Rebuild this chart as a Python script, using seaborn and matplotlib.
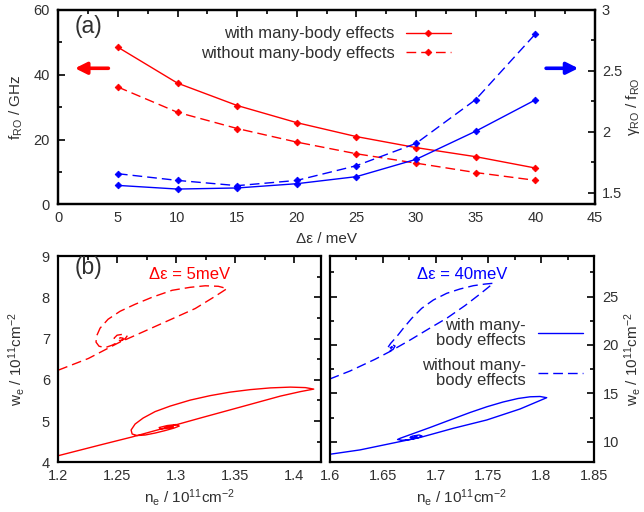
import numpy as np
import matplotlib
matplotlib.use("Agg")
import matplotlib.pyplot as plt
from matplotlib.ticker import MultipleLocator, FormatStrFormatter
import seaborn as sns

# ---------------- data ----------------
delta_eps = [5, 10, 15, 20, 25, 30, 35, 40]
f_ro_with = [48.5, 37.4, 30.5, 25.2, 20.9, 17.5, 14.7, 11.2]
f_ro_without = [36.2, 28.4, 23.4, 19.2, 15.6, 12.7, 9.8, 7.4]
ratio_with = [1.560, 1.530, 1.539, 1.574, 1.632, 1.774, 2.005, 2.262]
ratio_without = [1.656, 1.601, 1.558, 1.601, 1.722, 1.905, 2.265, 2.803]

# phase-space trajectories, delta eps = 5 meV
ne_5_with = [1.2000, 1.2354, 1.2623, 1.2906, 1.3203, 1.3543, 1.3882, 1.4052, 1.4165,
             1.4094, 1.3967, 1.3797, 1.3627, 1.3457, 1.3288, 1.3118, 1.2948, 1.2821,
             1.2719, 1.2651, 1.2617, 1.2626, 1.2668, 1.2736, 1.2821, 1.2906, 1.2982,
             1.3025, 1.2999, 1.2923, 1.2855, 1.2872, 1.2940, 1.2974, 1.2931, 1.2906]
we_5_with = [4.160, 4.419, 4.612, 4.835, 5.072, 5.338, 5.604, 5.713, 5.774,
             5.810, 5.822, 5.803, 5.761, 5.701, 5.616, 5.507, 5.362, 5.229,
             5.072, 4.927, 4.782, 4.685, 4.648, 4.661, 4.709, 4.769, 4.830,
             4.878, 4.915, 4.890, 4.842, 4.806, 4.830, 4.859, 4.859, 4.842]
ne_5_without = [1.2000, 1.2255, 1.2509, 1.2778, 1.3160, 1.3330, 1.3430, 1.3356, 1.3245,
                1.3118, 1.2965, 1.2795, 1.2651, 1.2524, 1.2422, 1.2354, 1.2324, 1.2320,
                1.2345, 1.2396, 1.2456, 1.2507, 1.2566, 1.2583, 1.2549, 1.2498, 1.2473,
                1.2498, 1.2541, 1.2549, 1.2524, 1.2515]
we_5_without = [6.233, 6.516, 6.894, 7.237, 7.726, 8.024, 8.210, 8.266, 8.278,
                8.241, 8.169, 8.000, 7.830, 7.661, 7.467, 7.250, 7.056, 6.911,
                6.814, 6.778, 6.838, 6.911, 6.995, 7.056, 7.104, 7.080, 7.008,
                6.947, 6.959, 7.008, 7.020, 6.983]

# phase-space trajectories, delta eps = 40 meV
ne_40_with = [1.6000, 1.6286, 1.6633, 1.6853, 1.7168, 1.7483, 1.7798, 1.8050, 1.7987,
              1.7893, 1.7779, 1.7638, 1.7487, 1.7326, 1.7136, 1.6948, 1.6778, 1.6665,
              1.6641, 1.6683, 1.6759, 1.6835, 1.6872, 1.6844, 1.6778, 1.6759, 1.6797,
              1.6825, 1.6806]
we_40_with = [8.697, 9.15, 9.938, 10.434, 11.385, 12.243, 13.381, 14.549, 14.673,
              14.642, 14.466, 14.104, 13.619, 13.019, 12.243, 11.468, 10.796, 10.351,
              10.227, 10.145, 10.227, 10.403, 10.589, 10.693, 10.568, 10.434, 10.434,
              10.538, 10.558]
ne_40_without = [1.6000, 1.6192, 1.6428, 1.6570, 1.6759, 1.6949, 1.7109, 1.7279, 1.7420,
                 1.7546, 1.7467, 1.7357, 1.7231, 1.7105, 1.6979, 1.6869, 1.6775, 1.6695,
                 1.6633, 1.6576, 1.6548, 1.6560, 1.6598, 1.6617, 1.6589, 1.6565, 1.6579,
                 1.6593, 1.6579]
we_40_without = [16.48, 17.31, 18.52, 19.33, 20.51, 21.76, 22.79, 24.08, 25.27,
                 26.38, 26.30, 26.13, 25.79, 25.34, 24.65, 23.79, 22.76, 21.72,
                 20.86, 20.17, 19.72, 19.38, 19.53, 19.89, 20.05, 19.84, 19.64,
                 19.79, 19.84]

label_with = "with many-body effects"
label_without = "without many-body effects"
label_with_2 = "with many-\nbody effects"
label_without_2 = "without many-\nbody effects"

# ---------------- style ----------------
sns.set_theme(style="white")
plt.rcParams["font.family"] = ["Liberation Sans", "DejaVu Sans"]
plt.rcParams["mathtext.fontset"] = "custom"
plt.rcParams["mathtext.rm"] = "Liberation Sans"
plt.rcParams["mathtext.it"] = "Liberation Sans:italic"
plt.rcParams["axes.linewidth"] = 1.6
plt.rcParams["axes.edgecolor"] = "black"

RED = "#ff0000"
BLUE = "#0000ff"
TXT = "#303030"
DASH = (0, (7, 3.6))
LW = 1.0
TICKFS = 10.5
LABFS = 11
LEGFS = 12

fig = plt.figure(figsize=(6.44, 5.12), dpi=100)
ax = fig.add_axes([0.0905, 0.601, 0.8334, 0.3795])
ax2 = ax.twinx()
axl = fig.add_axes([0.0905, 0.0971, 0.4075, 0.4029])
axr = fig.add_axes([0.5120, 0.0971, 0.4109, 0.4029])


def style_ticks(a, **kw):
    a.tick_params(which="both", direction="in", colors="black", labelcolor=TXT,
                  labelsize=TICKFS, width=1.2, **kw)
    a.tick_params(which="major", length=5)
    a.tick_params(which="minor", length=3)


mk = dict(marker="D", markersize=3.4, markeredgewidth=0.6)

# ---------------- panel (a) ----------------
sns.lineplot(x=delta_eps, y=f_ro_with, ax=ax, color=RED, lw=LW, markeredgecolor=RED,
             legend=False, **mk)
sns.lineplot(x=delta_eps, y=f_ro_without, ax=ax, color=RED, lw=LW, linestyle=DASH,
             markeredgecolor=RED, legend=False, **mk)
sns.lineplot(x=delta_eps, y=ratio_with, ax=ax2, color=BLUE, lw=LW, markeredgecolor=BLUE,
             legend=False, **mk)
sns.lineplot(x=delta_eps, y=ratio_without, ax=ax2, color=BLUE, lw=LW, linestyle=DASH,
             markeredgecolor=BLUE, legend=False, **mk)

ax.set_xlim(0, 45)
ax.set_ylim(0, 60)
ax2.set_ylim(1.405, 3.0)
ax.xaxis.set_major_locator(MultipleLocator(5))
ax.xaxis.set_minor_locator(MultipleLocator(2.5))
ax.yaxis.set_major_locator(MultipleLocator(20))
ax.yaxis.set_minor_locator(MultipleLocator(10))
ax2.yaxis.set_major_locator(MultipleLocator(0.5))
ax2.yaxis.set_minor_locator(MultipleLocator(0.25))
ax2.yaxis.set_major_formatter(FormatStrFormatter("%g"))
style_ticks(ax, top=True, right=False, pad=6)
style_ticks(ax2, left=False, right=True, pad=5)
ax.tick_params(axis="x", pad=5)

ax.set_xlabel("Δε / meV", fontsize=LABFS, color=TXT, labelpad=5)
ax.set_ylabel(r"f$_{\rm RO}$ / GHz", fontsize=LABFS, color=TXT, labelpad=6)
ax2.set_ylabel(r"γ$_{\rm RO}$ / f$_{\rm RO}$", fontsize=LABFS, color=TXT, labelpad=1)
ax.text(0.031, 0.914, "(a)", transform=ax.transAxes, fontsize=16.5, color=TXT,
        ha="left", va="center")

arrow_kw = dict(arrowstyle="-|>,head_length=0.5,head_width=0.25", lw=2.6,
                mutation_scale=14, shrinkA=0, shrinkB=0)
ax.annotate("", xy=(1.4, 42), xytext=(4.2, 42), arrowprops=dict(color=RED, **arrow_kw))
ax.annotate("", xy=(43.6, 42), xytext=(40.9, 42), arrowprops=dict(color=BLUE, **arrow_kw),
            annotation_clip=False)

h = ax.get_lines()[:2]
leg = ax.legend(h, [label_with, label_without], loc="upper right",
                bbox_to_anchor=(0.7317, 0.915), frameon=False, markerfirst=False,
                fontsize=LEGFS, handlelength=2.7, handletextpad=0.7, labelspacing=0.25,
                borderpad=0, borderaxespad=0)
for t in leg.get_texts():
    t.set_color(TXT)

# ---------------- panel (b) left ----------------
sns.lineplot(x=ne_5_with, y=we_5_with, ax=axl, sort=False, estimator=None,
             color=RED, lw=LW, legend=False)
sns.lineplot(x=ne_5_without, y=we_5_without, ax=axl, sort=False, estimator=None,
             color=RED, lw=LW, linestyle=DASH, legend=False)
axl.set_xlim(1.2, 1.4224)
axl.set_ylim(4, 9)
axl.xaxis.set_major_locator(MultipleLocator(0.05))
axl.xaxis.set_minor_locator(MultipleLocator(0.025))
axl.yaxis.set_major_locator(MultipleLocator(1))
axl.yaxis.set_minor_locator(MultipleLocator(0.5))
axl.xaxis.set_major_formatter(FormatStrFormatter("%g"))
style_ticks(axl, top=True, right=True, pad=6)
axl.tick_params(axis="x", pad=5)
axl.set_xlabel(r"n$_{\rm e}$ / 10$^{11}$cm$^{-2}$", fontsize=LABFS, color=TXT, labelpad=3)
axl.set_ylabel(r"w$_{\rm e}$ / 10$^{11}$cm$^{-2}$", fontsize=LABFS, color=TXT, labelpad=11)
axl.text(0.064, 0.942, "(b)", transform=axl.transAxes, fontsize=16.5, color=TXT,
         ha="left", va="center")
axl.text(0.502, 0.911, "Δε = 5meV", transform=axl.transAxes, fontsize=12, color=RED,
         ha="center", va="center")

# ---------------- panel (b) right ----------------
sns.lineplot(x=ne_40_with, y=we_40_with, ax=axr, sort=False, estimator=None,
             color=BLUE, lw=LW, legend=False)
sns.lineplot(x=ne_40_without, y=we_40_without, ax=axr, sort=False, estimator=None,
             color=BLUE, lw=LW, linestyle=DASH, legend=False)
axr.set_xlim(1.6, 1.85)
axr.set_ylim(7.87, 29.2)
axr.xaxis.set_major_locator(MultipleLocator(0.05))
axr.xaxis.set_minor_locator(MultipleLocator(0.025))
axr.yaxis.set_major_locator(MultipleLocator(5))
axr.yaxis.set_minor_locator(MultipleLocator(2.5))
axr.xaxis.set_major_formatter(FormatStrFormatter("%g"))
style_ticks(axr, top=True, right=True, left=True, labelleft=False, labelright=True, pad=6)
axr.tick_params(axis="x", pad=5)
axr.yaxis.set_label_position("right")
axr.set_xlabel(r"n$_{\rm e}$ / 10$^{11}$cm$^{-2}$", fontsize=LABFS, color=TXT, labelpad=3)
axr.set_ylabel(r"w$_{\rm e}$ / 10$^{11}$cm$^{-2}$", fontsize=LABFS, color=TXT, labelpad=2)
axr.text(0.499, 0.911, "Δε = 40meV", transform=axr.transAxes, fontsize=12, color=BLUE,
         ha="center", va="center")
hr = axr.get_lines()[:2]
legr = axr.legend(hr, [label_with_2, label_without_2], loc="upper right",
                  bbox_to_anchor=(0.956, 0.70), frameon=False, markerfirst=False,
                  fontsize=LEGFS, handlelength=2.7, handletextpad=0.7, labelspacing=0.6,
                  borderpad=0, borderaxespad=0)
for t in legr.get_texts():
    t.set_color(TXT)
    t.set_multialignment("right")
    t.set_linespacing(1.0)

fig.savefig("out.png", dpi=100)
